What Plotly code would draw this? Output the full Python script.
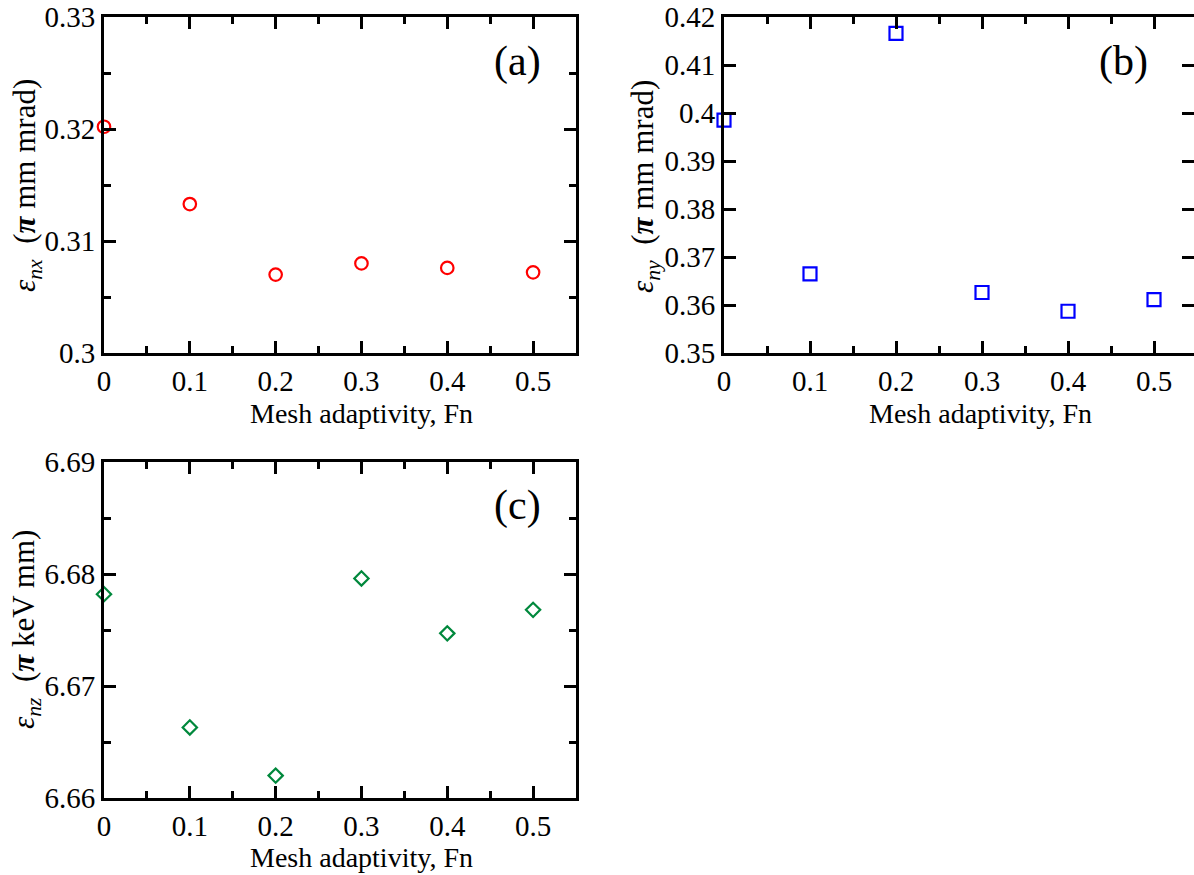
import plotly.graph_objects as go

# ---------------- data ----------------
fn = [0.0, 0.1, 0.2, 0.3, 0.4, 0.5]
emit_x = [0.3202, 0.3133, 0.3070, 0.3080, 0.3076, 0.3072]
emit_y = [0.3985, 0.3665, 0.4166, 0.3626, 0.3587, 0.3611]
emit_z = [6.6782, 6.6663, 6.6620, 6.6796, 6.6747, 6.6768]

x_ticks = [0, 0.1, 0.2, 0.3, 0.4, 0.5]
x_ticktext = ["0", "0.1", "0.2", "0.3", "0.4", "0.5"]
ya_ticks = [0.30, 0.31, 0.32, 0.33]
ya_text = ["0.3", "0.31", "0.32", "0.33"]
yb_ticks = [0.35, 0.36, 0.37, 0.38, 0.39, 0.40, 0.41, 0.42]
yb_text = ["0.35", "0.36", "0.37", "0.38", "0.39", "0.4", "0.41", "0.42"]
yc_ticks = [6.66, 6.67, 6.68, 6.69]
yc_text = ["6.66", "6.67", "6.68", "6.69"]

x_title = "Mesh adaptivity, Fn"
ya_title = "<i>ε</i><sub><i>nx</i></sub>\u00a0\u00a0(<b><i>π</i></b> mm mrad)"
yb_title = "<i>ε</i><sub><i>ny</i></sub>\u00a0\u00a0(<b><i>π</i></b> mm mrad)"
yc_title = "<i>ε</i><sub><i>nz</i></sub>\u00a0\u00a0(<b><i>π</i></b> keV mm)"
panel_labels = ["(a)", "(b)", "(c)"]

# ---------------- layout helpers ----------------
W, H = 1194, 875
FONT = "Liberation Serif"


def px(x):
    return x / W


def py(y):
    return 1 - y / H


fig = go.Figure()

fig.add_trace(go.Scatter(x=fn, y=emit_x, mode="markers", xaxis="x", yaxis="y",
                         cliponaxis=False,
                         marker=dict(symbol="circle-open", size=12.5, color="#ff0000",
                                     line=dict(width=2.2, color="#ff0000")),
                         showlegend=False, hoverinfo="skip"))
fig.add_trace(go.Scatter(x=fn, y=emit_y, mode="markers", xaxis="x2", yaxis="y2",
                         cliponaxis=False,
                         marker=dict(symbol="square-open", size=13, color="#0000ff",
                                     line=dict(width=2.2, color="#0000ff")),
                         showlegend=False, hoverinfo="skip"))
fig.add_trace(go.Scatter(x=fn, y=emit_z, mode="markers", xaxis="x3", yaxis="y3",
                         cliponaxis=False,
                         marker=dict(symbol="diamond-open", size=11, color="#00883c",
                                     line=dict(width=2.2, color="#00883c")),
                         showlegend=False, hoverinfo="skip"))
# empty trace carrying the right-hand tick axis of panel (b)
fig.add_trace(go.Scatter(x=[], y=[], xaxis="x2", yaxis="y4", showlegend=False,
                         hoverinfo="skip"))

tickfont = dict(family=FONT, size=29, color="black")

common_x = dict(showline=True, linewidth=3, linecolor="black", mirror="ticks",
                ticks="inside", ticklen=12, tickwidth=2.5, tickcolor="black",
                tickmode="array", tickvals=x_ticks, ticktext=x_ticktext,
                minor=dict(ticks="inside", ticklen=7, tickwidth=2.5, tickcolor="black",
                           tickmode="linear", tick0=0.05, dtick=0.1),
                showgrid=False, zeroline=False, tickfont=tickfont, automargin=False)

common_y = dict(showline=True, linewidth=3, linecolor="black",
                ticks="inside", ticklen=12, tickwidth=2.5, tickcolor="black",
                tickmode="array", showgrid=False, zeroline=False, tickfont=tickfont,
                automargin=False)

fig.update_layout(
    template="none",
    width=W, height=H, autosize=False,
    margin=dict(l=0, r=0, t=0, b=0, pad=0),
    font=dict(family=FONT, color="black"),
    paper_bgcolor="white", plot_bgcolor="white",
    xaxis=dict(common_x, domain=[px(104), px(576)], range=[0, 0.55], anchor="y"),
    yaxis=dict(common_y, domain=[py(353), py(17)], range=[0.30, 0.33], anchor="x",
               mirror="ticks", tickvals=ya_ticks, ticktext=ya_text,
               minor=dict(ticks="inside", ticklen=7, tickwidth=2.5, tickcolor="black",
                          tickmode="linear", tick0=0.305, dtick=0.01)),
    xaxis2=dict(common_x, domain=[px(724), 1.0], range=[0, 0.5465], anchor="y2"),
    yaxis2=dict(common_y, domain=[py(353), py(17)], range=[0.35, 0.42], anchor="x2",
                mirror=False, tickvals=yb_ticks, ticktext=yb_text),
    yaxis4=dict(overlaying="y2", side="right", anchor="x2", range=[0.35, 0.42],
                showline=False, showgrid=False, zeroline=False, showticklabels=False,
                ticks="inside", ticklen=12, tickwidth=2.5, tickcolor="black",
                tickmode="array", tickvals=yb_ticks, automargin=False),
    xaxis3=dict(common_x, domain=[px(104), px(576)], range=[0, 0.55], anchor="y3"),
    yaxis3=dict(common_y, domain=[py(798), py(462)], range=[6.66, 6.69], anchor="x3",
                mirror="ticks", tickvals=yc_ticks, ticktext=yc_text,
                minor=dict(ticks="inside", ticklen=7, tickwidth=2.5, tickcolor="black",
                           tickmode="linear", tick0=6.665, dtick=0.01)),
)

ann_font = dict(family=FONT, size=28, color="black")
ytitle_font = dict(family=FONT, size=31, color="black")
annotations = [
    # x-axis titles
    dict(text=x_title, x=px(361), y=py(413), xref="paper", yref="paper",
         xanchor="center", yanchor="middle", showarrow=False, font=ann_font),
    dict(text=x_title, x=px(981), y=py(413), xref="paper", yref="paper",
         xanchor="center", yanchor="middle", showarrow=False, font=ann_font),
    dict(text=x_title, x=px(361), y=py(857), xref="paper", yref="paper",
         xanchor="center", yanchor="middle", showarrow=False, font=ann_font),
    # y-axis titles
    dict(text=ya_title, x=px(27), y=py(186), xref="paper", yref="paper", textangle=-90,
         xanchor="center", yanchor="middle", showarrow=False, font=ytitle_font),
    dict(text=yb_title, x=px(645), y=py(186), xref="paper", yref="paper", textangle=-90,
         xanchor="center", yanchor="middle", showarrow=False, font=ytitle_font),
    dict(text=yc_title, x=px(26), y=py(630), xref="paper", yref="paper", textangle=-90,
         xanchor="center", yanchor="middle", showarrow=False, font=ytitle_font),
    # panel labels
    dict(text=panel_labels[0], x=px(517), y=py(61), xref="paper", yref="paper",
         xanchor="center", yanchor="middle", showarrow=False,
         font=dict(family=FONT, size=42, color="black")),
    dict(text=panel_labels[1], x=px(1123), y=py(62), xref="paper", yref="paper",
         xanchor="center", yanchor="middle", showarrow=False,
         font=dict(family=FONT, size=42, color="black")),
    dict(text=panel_labels[2], x=px(517), y=py(505), xref="paper", yref="paper",
         xanchor="center", yanchor="middle", showarrow=False,
         font=dict(family=FONT, size=42, color="black")),
]
fig.update_layout(annotations=annotations)

fig.write_html("out.html", config={"displayModeBar": False})
